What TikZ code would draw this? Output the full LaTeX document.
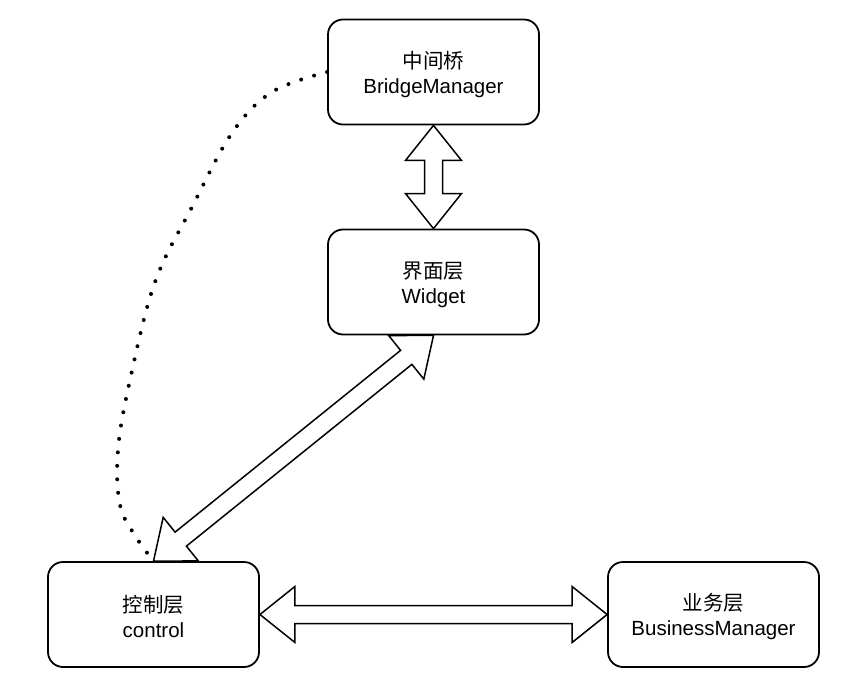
\documentclass[tikz,border=0pt]{standalone}
\usepackage{fontspec}
\setmainfont{Liberation Sans}
\newfontfamily\cjk{Noto Sans CJK SC}
\usetikzlibrary{calc}
\tikzset{
  box/.style={draw=black, line width=1.8pt, fill=white, rounded corners=15pt,
    minimum width=211pt, minimum height=105pt, align=center, inner sep=0pt,
    font=\fontsize{20.5}{25}\selectfont},
  flex/.style={draw=black, line width=1.5pt, fill=white, line join=miter},
  dotline/.style={line width=4pt, line cap=round, dash pattern=on 0pt off 13.5pt}
}
\newcommand\flexarr[2]{%
  \draw[flex] (#1)
    -- ($(#1)!35pt!(#2)!28pt!90:(#2)$)
    -- ($(#1)!35pt!(#2)!9pt!90:(#2)$)
    -- ($(#2)!35pt!(#1)!9pt!-90:(#1)$)
    -- ($(#2)!35pt!(#1)!28pt!-90:(#1)$)
    -- (#2)
    -- ($(#2)!35pt!(#1)!28pt!90:(#1)$)
    -- ($(#2)!35pt!(#1)!9pt!90:(#1)$)
    -- ($(#1)!35pt!(#2)!9pt!-90:(#2)$)
    -- ($(#1)!35pt!(#2)!28pt!-90:(#2)$)
    -- cycle;}
\begin{document}
\begin{tikzpicture}[x=1pt,y=-1pt]
\useasboundingbox (0,0) rectangle (865,685);
% placement frames for the arrows (drawn beneath the boxes)
\node[box, draw=none, fill=none] (bm0) at (433.5,72) {};
\node[box, draw=none, fill=none] (w0) at (433.5,282) {};
\node[box, draw=none, fill=none] (c0) at (153.5,614.5) {};
\node[box, draw=none, fill=none] (b0) at (713.5,614.5) {};
\coordinate (bmS) at (bm0.south);
\coordinate (wN) at (w0.north);
\coordinate (wS) at (w0.south);
\coordinate (cN) at (c0.north);
\coordinate (cE) at (c0.east);
\coordinate (bW) at (b0.west);
\flexarr{bmS}{wN}
\flexarr{cN}{wS}
\flexarr{cE}{bW}
% boxes
\node[box] (bm) at (433.5,72) {\rule{0pt}{22pt}{\cjk 中间桥}\\BridgeManager};
\node[box] (w) at (433.5,282) {\rule{0pt}{22pt}{\cjk 界面层}\\Widget};
\node[box] (c) at (153.5,614.5) {\rule{0pt}{22pt}{\cjk 控制层}\\control};
\node[box] (b) at (713.5,614.5) {\rule{0pt}{22pt}{\cjk 业务层}\\BusinessManager};
% dotted curve
\draw[dotline] plot[smooth, tension=0.6] coordinates {(bm.west) (272,92) (232,133) (192,207) (155,282) (130,380) (118,450) (120,505) (136,537) (c.north)};
\end{tikzpicture}
\end{document}
